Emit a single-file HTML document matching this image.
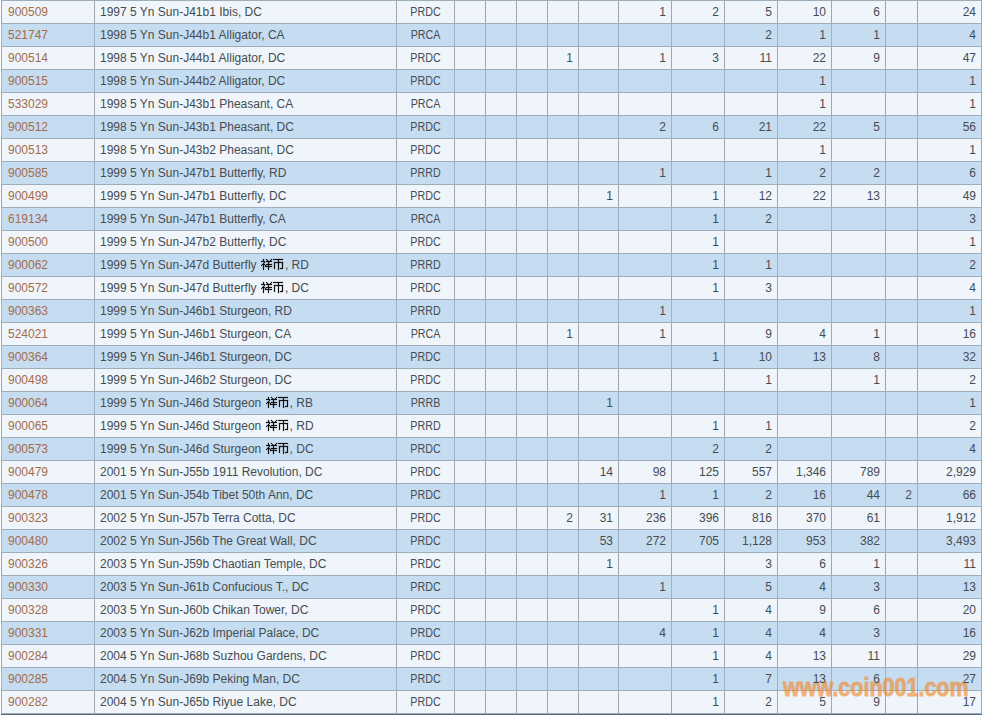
<!DOCTYPE html>
<html><head><meta charset="utf-8"><style>
html,body{margin:0;padding:0;background:#fff;}
body{width:982px;height:715px;overflow:hidden;position:relative;font-family:"Liberation Sans",sans-serif;font-size:12px;color:#464c52;}
.r{position:absolute;left:1px;width:981px;height:23px;}
.o{background:#eff5fa}
.e{background:#c6dcf0}
.h{position:absolute;left:1px;width:981px;height:1px;background:#9eadba}
.v{position:absolute;width:1px;height:22px}
.vo{background:#a0a7b2}
.ve{background:#9cb3c8}
.t{position:absolute;height:23px;line-height:23px;white-space:nowrap;}
.n{text-align:right}
.c{text-align:center}
.ty{transform:scaleX(0.89)}
.lk{color:#a46c4a}
.cj{vertical-align:-2px;margin:0 1px 0 1px}
.wm{position:absolute;left:783px;top:672px;opacity:0.64}
.wm span{font-family:"Liberation Sans",sans-serif;font-weight:bold;font-size:25px;line-height:30px;color:#f08c30;display:block;transform-origin:0 0;transform:scaleX(0.86);white-space:nowrap;-webkit-text-stroke:0.9px #f08c30}
</style></head><body>

<div class="r o" style="top:0px"></div>
<div class="r e" style="top:23px"></div>
<div class="r o" style="top:46px"></div>
<div class="r e" style="top:69px"></div>
<div class="r o" style="top:92px"></div>
<div class="r e" style="top:115px"></div>
<div class="r o" style="top:138px"></div>
<div class="r e" style="top:161px"></div>
<div class="r o" style="top:184px"></div>
<div class="r e" style="top:207px"></div>
<div class="r o" style="top:230px"></div>
<div class="r e" style="top:253px"></div>
<div class="r o" style="top:276px"></div>
<div class="r e" style="top:299px"></div>
<div class="r o" style="top:322px"></div>
<div class="r e" style="top:345px"></div>
<div class="r o" style="top:368px"></div>
<div class="r e" style="top:391px"></div>
<div class="r o" style="top:414px"></div>
<div class="r e" style="top:437px"></div>
<div class="r o" style="top:460px"></div>
<div class="r e" style="top:483px"></div>
<div class="r o" style="top:506px"></div>
<div class="r e" style="top:529px"></div>
<div class="r o" style="top:552px"></div>
<div class="r e" style="top:575px"></div>
<div class="r o" style="top:598px"></div>
<div class="r e" style="top:621px"></div>
<div class="r o" style="top:644px"></div>
<div class="r e" style="top:667px"></div>
<div class="r o" style="top:690px"></div>
<div class="h" style="top:0px"></div>
<div class="h" style="top:23px"></div>
<div class="h" style="top:46px"></div>
<div class="h" style="top:69px"></div>
<div class="h" style="top:92px"></div>
<div class="h" style="top:115px"></div>
<div class="h" style="top:138px"></div>
<div class="h" style="top:161px"></div>
<div class="h" style="top:184px"></div>
<div class="h" style="top:207px"></div>
<div class="h" style="top:230px"></div>
<div class="h" style="top:253px"></div>
<div class="h" style="top:276px"></div>
<div class="h" style="top:299px"></div>
<div class="h" style="top:322px"></div>
<div class="h" style="top:345px"></div>
<div class="h" style="top:368px"></div>
<div class="h" style="top:391px"></div>
<div class="h" style="top:414px"></div>
<div class="h" style="top:437px"></div>
<div class="h" style="top:460px"></div>
<div class="h" style="top:483px"></div>
<div class="h" style="top:506px"></div>
<div class="h" style="top:529px"></div>
<div class="h" style="top:552px"></div>
<div class="h" style="top:575px"></div>
<div class="h" style="top:598px"></div>
<div class="h" style="top:621px"></div>
<div class="h" style="top:644px"></div>
<div class="h" style="top:667px"></div>
<div class="h" style="top:690px"></div>
<div class="h" style="top:713px"></div>
<div class="v vo" style="left:1px;top:1px"></div>
<div class="v vo" style="left:94px;top:1px"></div>
<div class="v vo" style="left:396px;top:1px"></div>
<div class="v vo" style="left:454px;top:1px"></div>
<div class="v vo" style="left:485px;top:1px"></div>
<div class="v vo" style="left:516px;top:1px"></div>
<div class="v vo" style="left:547px;top:1px"></div>
<div class="v vo" style="left:578px;top:1px"></div>
<div class="v vo" style="left:618px;top:1px"></div>
<div class="v vo" style="left:671px;top:1px"></div>
<div class="v vo" style="left:724px;top:1px"></div>
<div class="v vo" style="left:777px;top:1px"></div>
<div class="v vo" style="left:831px;top:1px"></div>
<div class="v vo" style="left:885px;top:1px"></div>
<div class="v vo" style="left:917px;top:1px"></div>
<div class="v vo" style="left:981px;top:1px"></div>
<div class="v ve" style="left:1px;top:24px"></div>
<div class="v ve" style="left:94px;top:24px"></div>
<div class="v ve" style="left:396px;top:24px"></div>
<div class="v ve" style="left:454px;top:24px"></div>
<div class="v ve" style="left:485px;top:24px"></div>
<div class="v ve" style="left:516px;top:24px"></div>
<div class="v ve" style="left:547px;top:24px"></div>
<div class="v ve" style="left:578px;top:24px"></div>
<div class="v ve" style="left:618px;top:24px"></div>
<div class="v ve" style="left:671px;top:24px"></div>
<div class="v ve" style="left:724px;top:24px"></div>
<div class="v ve" style="left:777px;top:24px"></div>
<div class="v ve" style="left:831px;top:24px"></div>
<div class="v ve" style="left:885px;top:24px"></div>
<div class="v ve" style="left:917px;top:24px"></div>
<div class="v ve" style="left:981px;top:24px"></div>
<div class="v vo" style="left:1px;top:47px"></div>
<div class="v vo" style="left:94px;top:47px"></div>
<div class="v vo" style="left:396px;top:47px"></div>
<div class="v vo" style="left:454px;top:47px"></div>
<div class="v vo" style="left:485px;top:47px"></div>
<div class="v vo" style="left:516px;top:47px"></div>
<div class="v vo" style="left:547px;top:47px"></div>
<div class="v vo" style="left:578px;top:47px"></div>
<div class="v vo" style="left:618px;top:47px"></div>
<div class="v vo" style="left:671px;top:47px"></div>
<div class="v vo" style="left:724px;top:47px"></div>
<div class="v vo" style="left:777px;top:47px"></div>
<div class="v vo" style="left:831px;top:47px"></div>
<div class="v vo" style="left:885px;top:47px"></div>
<div class="v vo" style="left:917px;top:47px"></div>
<div class="v vo" style="left:981px;top:47px"></div>
<div class="v ve" style="left:1px;top:70px"></div>
<div class="v ve" style="left:94px;top:70px"></div>
<div class="v ve" style="left:396px;top:70px"></div>
<div class="v ve" style="left:454px;top:70px"></div>
<div class="v ve" style="left:485px;top:70px"></div>
<div class="v ve" style="left:516px;top:70px"></div>
<div class="v ve" style="left:547px;top:70px"></div>
<div class="v ve" style="left:578px;top:70px"></div>
<div class="v ve" style="left:618px;top:70px"></div>
<div class="v ve" style="left:671px;top:70px"></div>
<div class="v ve" style="left:724px;top:70px"></div>
<div class="v ve" style="left:777px;top:70px"></div>
<div class="v ve" style="left:831px;top:70px"></div>
<div class="v ve" style="left:885px;top:70px"></div>
<div class="v ve" style="left:917px;top:70px"></div>
<div class="v ve" style="left:981px;top:70px"></div>
<div class="v vo" style="left:1px;top:93px"></div>
<div class="v vo" style="left:94px;top:93px"></div>
<div class="v vo" style="left:396px;top:93px"></div>
<div class="v vo" style="left:454px;top:93px"></div>
<div class="v vo" style="left:485px;top:93px"></div>
<div class="v vo" style="left:516px;top:93px"></div>
<div class="v vo" style="left:547px;top:93px"></div>
<div class="v vo" style="left:578px;top:93px"></div>
<div class="v vo" style="left:618px;top:93px"></div>
<div class="v vo" style="left:671px;top:93px"></div>
<div class="v vo" style="left:724px;top:93px"></div>
<div class="v vo" style="left:777px;top:93px"></div>
<div class="v vo" style="left:831px;top:93px"></div>
<div class="v vo" style="left:885px;top:93px"></div>
<div class="v vo" style="left:917px;top:93px"></div>
<div class="v vo" style="left:981px;top:93px"></div>
<div class="v ve" style="left:1px;top:116px"></div>
<div class="v ve" style="left:94px;top:116px"></div>
<div class="v ve" style="left:396px;top:116px"></div>
<div class="v ve" style="left:454px;top:116px"></div>
<div class="v ve" style="left:485px;top:116px"></div>
<div class="v ve" style="left:516px;top:116px"></div>
<div class="v ve" style="left:547px;top:116px"></div>
<div class="v ve" style="left:578px;top:116px"></div>
<div class="v ve" style="left:618px;top:116px"></div>
<div class="v ve" style="left:671px;top:116px"></div>
<div class="v ve" style="left:724px;top:116px"></div>
<div class="v ve" style="left:777px;top:116px"></div>
<div class="v ve" style="left:831px;top:116px"></div>
<div class="v ve" style="left:885px;top:116px"></div>
<div class="v ve" style="left:917px;top:116px"></div>
<div class="v ve" style="left:981px;top:116px"></div>
<div class="v vo" style="left:1px;top:139px"></div>
<div class="v vo" style="left:94px;top:139px"></div>
<div class="v vo" style="left:396px;top:139px"></div>
<div class="v vo" style="left:454px;top:139px"></div>
<div class="v vo" style="left:485px;top:139px"></div>
<div class="v vo" style="left:516px;top:139px"></div>
<div class="v vo" style="left:547px;top:139px"></div>
<div class="v vo" style="left:578px;top:139px"></div>
<div class="v vo" style="left:618px;top:139px"></div>
<div class="v vo" style="left:671px;top:139px"></div>
<div class="v vo" style="left:724px;top:139px"></div>
<div class="v vo" style="left:777px;top:139px"></div>
<div class="v vo" style="left:831px;top:139px"></div>
<div class="v vo" style="left:885px;top:139px"></div>
<div class="v vo" style="left:917px;top:139px"></div>
<div class="v vo" style="left:981px;top:139px"></div>
<div class="v ve" style="left:1px;top:162px"></div>
<div class="v ve" style="left:94px;top:162px"></div>
<div class="v ve" style="left:396px;top:162px"></div>
<div class="v ve" style="left:454px;top:162px"></div>
<div class="v ve" style="left:485px;top:162px"></div>
<div class="v ve" style="left:516px;top:162px"></div>
<div class="v ve" style="left:547px;top:162px"></div>
<div class="v ve" style="left:578px;top:162px"></div>
<div class="v ve" style="left:618px;top:162px"></div>
<div class="v ve" style="left:671px;top:162px"></div>
<div class="v ve" style="left:724px;top:162px"></div>
<div class="v ve" style="left:777px;top:162px"></div>
<div class="v ve" style="left:831px;top:162px"></div>
<div class="v ve" style="left:885px;top:162px"></div>
<div class="v ve" style="left:917px;top:162px"></div>
<div class="v ve" style="left:981px;top:162px"></div>
<div class="v vo" style="left:1px;top:185px"></div>
<div class="v vo" style="left:94px;top:185px"></div>
<div class="v vo" style="left:396px;top:185px"></div>
<div class="v vo" style="left:454px;top:185px"></div>
<div class="v vo" style="left:485px;top:185px"></div>
<div class="v vo" style="left:516px;top:185px"></div>
<div class="v vo" style="left:547px;top:185px"></div>
<div class="v vo" style="left:578px;top:185px"></div>
<div class="v vo" style="left:618px;top:185px"></div>
<div class="v vo" style="left:671px;top:185px"></div>
<div class="v vo" style="left:724px;top:185px"></div>
<div class="v vo" style="left:777px;top:185px"></div>
<div class="v vo" style="left:831px;top:185px"></div>
<div class="v vo" style="left:885px;top:185px"></div>
<div class="v vo" style="left:917px;top:185px"></div>
<div class="v vo" style="left:981px;top:185px"></div>
<div class="v ve" style="left:1px;top:208px"></div>
<div class="v ve" style="left:94px;top:208px"></div>
<div class="v ve" style="left:396px;top:208px"></div>
<div class="v ve" style="left:454px;top:208px"></div>
<div class="v ve" style="left:485px;top:208px"></div>
<div class="v ve" style="left:516px;top:208px"></div>
<div class="v ve" style="left:547px;top:208px"></div>
<div class="v ve" style="left:578px;top:208px"></div>
<div class="v ve" style="left:618px;top:208px"></div>
<div class="v ve" style="left:671px;top:208px"></div>
<div class="v ve" style="left:724px;top:208px"></div>
<div class="v ve" style="left:777px;top:208px"></div>
<div class="v ve" style="left:831px;top:208px"></div>
<div class="v ve" style="left:885px;top:208px"></div>
<div class="v ve" style="left:917px;top:208px"></div>
<div class="v ve" style="left:981px;top:208px"></div>
<div class="v vo" style="left:1px;top:231px"></div>
<div class="v vo" style="left:94px;top:231px"></div>
<div class="v vo" style="left:396px;top:231px"></div>
<div class="v vo" style="left:454px;top:231px"></div>
<div class="v vo" style="left:485px;top:231px"></div>
<div class="v vo" style="left:516px;top:231px"></div>
<div class="v vo" style="left:547px;top:231px"></div>
<div class="v vo" style="left:578px;top:231px"></div>
<div class="v vo" style="left:618px;top:231px"></div>
<div class="v vo" style="left:671px;top:231px"></div>
<div class="v vo" style="left:724px;top:231px"></div>
<div class="v vo" style="left:777px;top:231px"></div>
<div class="v vo" style="left:831px;top:231px"></div>
<div class="v vo" style="left:885px;top:231px"></div>
<div class="v vo" style="left:917px;top:231px"></div>
<div class="v vo" style="left:981px;top:231px"></div>
<div class="v ve" style="left:1px;top:254px"></div>
<div class="v ve" style="left:94px;top:254px"></div>
<div class="v ve" style="left:396px;top:254px"></div>
<div class="v ve" style="left:454px;top:254px"></div>
<div class="v ve" style="left:485px;top:254px"></div>
<div class="v ve" style="left:516px;top:254px"></div>
<div class="v ve" style="left:547px;top:254px"></div>
<div class="v ve" style="left:578px;top:254px"></div>
<div class="v ve" style="left:618px;top:254px"></div>
<div class="v ve" style="left:671px;top:254px"></div>
<div class="v ve" style="left:724px;top:254px"></div>
<div class="v ve" style="left:777px;top:254px"></div>
<div class="v ve" style="left:831px;top:254px"></div>
<div class="v ve" style="left:885px;top:254px"></div>
<div class="v ve" style="left:917px;top:254px"></div>
<div class="v ve" style="left:981px;top:254px"></div>
<div class="v vo" style="left:1px;top:277px"></div>
<div class="v vo" style="left:94px;top:277px"></div>
<div class="v vo" style="left:396px;top:277px"></div>
<div class="v vo" style="left:454px;top:277px"></div>
<div class="v vo" style="left:485px;top:277px"></div>
<div class="v vo" style="left:516px;top:277px"></div>
<div class="v vo" style="left:547px;top:277px"></div>
<div class="v vo" style="left:578px;top:277px"></div>
<div class="v vo" style="left:618px;top:277px"></div>
<div class="v vo" style="left:671px;top:277px"></div>
<div class="v vo" style="left:724px;top:277px"></div>
<div class="v vo" style="left:777px;top:277px"></div>
<div class="v vo" style="left:831px;top:277px"></div>
<div class="v vo" style="left:885px;top:277px"></div>
<div class="v vo" style="left:917px;top:277px"></div>
<div class="v vo" style="left:981px;top:277px"></div>
<div class="v ve" style="left:1px;top:300px"></div>
<div class="v ve" style="left:94px;top:300px"></div>
<div class="v ve" style="left:396px;top:300px"></div>
<div class="v ve" style="left:454px;top:300px"></div>
<div class="v ve" style="left:485px;top:300px"></div>
<div class="v ve" style="left:516px;top:300px"></div>
<div class="v ve" style="left:547px;top:300px"></div>
<div class="v ve" style="left:578px;top:300px"></div>
<div class="v ve" style="left:618px;top:300px"></div>
<div class="v ve" style="left:671px;top:300px"></div>
<div class="v ve" style="left:724px;top:300px"></div>
<div class="v ve" style="left:777px;top:300px"></div>
<div class="v ve" style="left:831px;top:300px"></div>
<div class="v ve" style="left:885px;top:300px"></div>
<div class="v ve" style="left:917px;top:300px"></div>
<div class="v ve" style="left:981px;top:300px"></div>
<div class="v vo" style="left:1px;top:323px"></div>
<div class="v vo" style="left:94px;top:323px"></div>
<div class="v vo" style="left:396px;top:323px"></div>
<div class="v vo" style="left:454px;top:323px"></div>
<div class="v vo" style="left:485px;top:323px"></div>
<div class="v vo" style="left:516px;top:323px"></div>
<div class="v vo" style="left:547px;top:323px"></div>
<div class="v vo" style="left:578px;top:323px"></div>
<div class="v vo" style="left:618px;top:323px"></div>
<div class="v vo" style="left:671px;top:323px"></div>
<div class="v vo" style="left:724px;top:323px"></div>
<div class="v vo" style="left:777px;top:323px"></div>
<div class="v vo" style="left:831px;top:323px"></div>
<div class="v vo" style="left:885px;top:323px"></div>
<div class="v vo" style="left:917px;top:323px"></div>
<div class="v vo" style="left:981px;top:323px"></div>
<div class="v ve" style="left:1px;top:346px"></div>
<div class="v ve" style="left:94px;top:346px"></div>
<div class="v ve" style="left:396px;top:346px"></div>
<div class="v ve" style="left:454px;top:346px"></div>
<div class="v ve" style="left:485px;top:346px"></div>
<div class="v ve" style="left:516px;top:346px"></div>
<div class="v ve" style="left:547px;top:346px"></div>
<div class="v ve" style="left:578px;top:346px"></div>
<div class="v ve" style="left:618px;top:346px"></div>
<div class="v ve" style="left:671px;top:346px"></div>
<div class="v ve" style="left:724px;top:346px"></div>
<div class="v ve" style="left:777px;top:346px"></div>
<div class="v ve" style="left:831px;top:346px"></div>
<div class="v ve" style="left:885px;top:346px"></div>
<div class="v ve" style="left:917px;top:346px"></div>
<div class="v ve" style="left:981px;top:346px"></div>
<div class="v vo" style="left:1px;top:369px"></div>
<div class="v vo" style="left:94px;top:369px"></div>
<div class="v vo" style="left:396px;top:369px"></div>
<div class="v vo" style="left:454px;top:369px"></div>
<div class="v vo" style="left:485px;top:369px"></div>
<div class="v vo" style="left:516px;top:369px"></div>
<div class="v vo" style="left:547px;top:369px"></div>
<div class="v vo" style="left:578px;top:369px"></div>
<div class="v vo" style="left:618px;top:369px"></div>
<div class="v vo" style="left:671px;top:369px"></div>
<div class="v vo" style="left:724px;top:369px"></div>
<div class="v vo" style="left:777px;top:369px"></div>
<div class="v vo" style="left:831px;top:369px"></div>
<div class="v vo" style="left:885px;top:369px"></div>
<div class="v vo" style="left:917px;top:369px"></div>
<div class="v vo" style="left:981px;top:369px"></div>
<div class="v ve" style="left:1px;top:392px"></div>
<div class="v ve" style="left:94px;top:392px"></div>
<div class="v ve" style="left:396px;top:392px"></div>
<div class="v ve" style="left:454px;top:392px"></div>
<div class="v ve" style="left:485px;top:392px"></div>
<div class="v ve" style="left:516px;top:392px"></div>
<div class="v ve" style="left:547px;top:392px"></div>
<div class="v ve" style="left:578px;top:392px"></div>
<div class="v ve" style="left:618px;top:392px"></div>
<div class="v ve" style="left:671px;top:392px"></div>
<div class="v ve" style="left:724px;top:392px"></div>
<div class="v ve" style="left:777px;top:392px"></div>
<div class="v ve" style="left:831px;top:392px"></div>
<div class="v ve" style="left:885px;top:392px"></div>
<div class="v ve" style="left:917px;top:392px"></div>
<div class="v ve" style="left:981px;top:392px"></div>
<div class="v vo" style="left:1px;top:415px"></div>
<div class="v vo" style="left:94px;top:415px"></div>
<div class="v vo" style="left:396px;top:415px"></div>
<div class="v vo" style="left:454px;top:415px"></div>
<div class="v vo" style="left:485px;top:415px"></div>
<div class="v vo" style="left:516px;top:415px"></div>
<div class="v vo" style="left:547px;top:415px"></div>
<div class="v vo" style="left:578px;top:415px"></div>
<div class="v vo" style="left:618px;top:415px"></div>
<div class="v vo" style="left:671px;top:415px"></div>
<div class="v vo" style="left:724px;top:415px"></div>
<div class="v vo" style="left:777px;top:415px"></div>
<div class="v vo" style="left:831px;top:415px"></div>
<div class="v vo" style="left:885px;top:415px"></div>
<div class="v vo" style="left:917px;top:415px"></div>
<div class="v vo" style="left:981px;top:415px"></div>
<div class="v ve" style="left:1px;top:438px"></div>
<div class="v ve" style="left:94px;top:438px"></div>
<div class="v ve" style="left:396px;top:438px"></div>
<div class="v ve" style="left:454px;top:438px"></div>
<div class="v ve" style="left:485px;top:438px"></div>
<div class="v ve" style="left:516px;top:438px"></div>
<div class="v ve" style="left:547px;top:438px"></div>
<div class="v ve" style="left:578px;top:438px"></div>
<div class="v ve" style="left:618px;top:438px"></div>
<div class="v ve" style="left:671px;top:438px"></div>
<div class="v ve" style="left:724px;top:438px"></div>
<div class="v ve" style="left:777px;top:438px"></div>
<div class="v ve" style="left:831px;top:438px"></div>
<div class="v ve" style="left:885px;top:438px"></div>
<div class="v ve" style="left:917px;top:438px"></div>
<div class="v ve" style="left:981px;top:438px"></div>
<div class="v vo" style="left:1px;top:461px"></div>
<div class="v vo" style="left:94px;top:461px"></div>
<div class="v vo" style="left:396px;top:461px"></div>
<div class="v vo" style="left:454px;top:461px"></div>
<div class="v vo" style="left:485px;top:461px"></div>
<div class="v vo" style="left:516px;top:461px"></div>
<div class="v vo" style="left:547px;top:461px"></div>
<div class="v vo" style="left:578px;top:461px"></div>
<div class="v vo" style="left:618px;top:461px"></div>
<div class="v vo" style="left:671px;top:461px"></div>
<div class="v vo" style="left:724px;top:461px"></div>
<div class="v vo" style="left:777px;top:461px"></div>
<div class="v vo" style="left:831px;top:461px"></div>
<div class="v vo" style="left:885px;top:461px"></div>
<div class="v vo" style="left:917px;top:461px"></div>
<div class="v vo" style="left:981px;top:461px"></div>
<div class="v ve" style="left:1px;top:484px"></div>
<div class="v ve" style="left:94px;top:484px"></div>
<div class="v ve" style="left:396px;top:484px"></div>
<div class="v ve" style="left:454px;top:484px"></div>
<div class="v ve" style="left:485px;top:484px"></div>
<div class="v ve" style="left:516px;top:484px"></div>
<div class="v ve" style="left:547px;top:484px"></div>
<div class="v ve" style="left:578px;top:484px"></div>
<div class="v ve" style="left:618px;top:484px"></div>
<div class="v ve" style="left:671px;top:484px"></div>
<div class="v ve" style="left:724px;top:484px"></div>
<div class="v ve" style="left:777px;top:484px"></div>
<div class="v ve" style="left:831px;top:484px"></div>
<div class="v ve" style="left:885px;top:484px"></div>
<div class="v ve" style="left:917px;top:484px"></div>
<div class="v ve" style="left:981px;top:484px"></div>
<div class="v vo" style="left:1px;top:507px"></div>
<div class="v vo" style="left:94px;top:507px"></div>
<div class="v vo" style="left:396px;top:507px"></div>
<div class="v vo" style="left:454px;top:507px"></div>
<div class="v vo" style="left:485px;top:507px"></div>
<div class="v vo" style="left:516px;top:507px"></div>
<div class="v vo" style="left:547px;top:507px"></div>
<div class="v vo" style="left:578px;top:507px"></div>
<div class="v vo" style="left:618px;top:507px"></div>
<div class="v vo" style="left:671px;top:507px"></div>
<div class="v vo" style="left:724px;top:507px"></div>
<div class="v vo" style="left:777px;top:507px"></div>
<div class="v vo" style="left:831px;top:507px"></div>
<div class="v vo" style="left:885px;top:507px"></div>
<div class="v vo" style="left:917px;top:507px"></div>
<div class="v vo" style="left:981px;top:507px"></div>
<div class="v ve" style="left:1px;top:530px"></div>
<div class="v ve" style="left:94px;top:530px"></div>
<div class="v ve" style="left:396px;top:530px"></div>
<div class="v ve" style="left:454px;top:530px"></div>
<div class="v ve" style="left:485px;top:530px"></div>
<div class="v ve" style="left:516px;top:530px"></div>
<div class="v ve" style="left:547px;top:530px"></div>
<div class="v ve" style="left:578px;top:530px"></div>
<div class="v ve" style="left:618px;top:530px"></div>
<div class="v ve" style="left:671px;top:530px"></div>
<div class="v ve" style="left:724px;top:530px"></div>
<div class="v ve" style="left:777px;top:530px"></div>
<div class="v ve" style="left:831px;top:530px"></div>
<div class="v ve" style="left:885px;top:530px"></div>
<div class="v ve" style="left:917px;top:530px"></div>
<div class="v ve" style="left:981px;top:530px"></div>
<div class="v vo" style="left:1px;top:553px"></div>
<div class="v vo" style="left:94px;top:553px"></div>
<div class="v vo" style="left:396px;top:553px"></div>
<div class="v vo" style="left:454px;top:553px"></div>
<div class="v vo" style="left:485px;top:553px"></div>
<div class="v vo" style="left:516px;top:553px"></div>
<div class="v vo" style="left:547px;top:553px"></div>
<div class="v vo" style="left:578px;top:553px"></div>
<div class="v vo" style="left:618px;top:553px"></div>
<div class="v vo" style="left:671px;top:553px"></div>
<div class="v vo" style="left:724px;top:553px"></div>
<div class="v vo" style="left:777px;top:553px"></div>
<div class="v vo" style="left:831px;top:553px"></div>
<div class="v vo" style="left:885px;top:553px"></div>
<div class="v vo" style="left:917px;top:553px"></div>
<div class="v vo" style="left:981px;top:553px"></div>
<div class="v ve" style="left:1px;top:576px"></div>
<div class="v ve" style="left:94px;top:576px"></div>
<div class="v ve" style="left:396px;top:576px"></div>
<div class="v ve" style="left:454px;top:576px"></div>
<div class="v ve" style="left:485px;top:576px"></div>
<div class="v ve" style="left:516px;top:576px"></div>
<div class="v ve" style="left:547px;top:576px"></div>
<div class="v ve" style="left:578px;top:576px"></div>
<div class="v ve" style="left:618px;top:576px"></div>
<div class="v ve" style="left:671px;top:576px"></div>
<div class="v ve" style="left:724px;top:576px"></div>
<div class="v ve" style="left:777px;top:576px"></div>
<div class="v ve" style="left:831px;top:576px"></div>
<div class="v ve" style="left:885px;top:576px"></div>
<div class="v ve" style="left:917px;top:576px"></div>
<div class="v ve" style="left:981px;top:576px"></div>
<div class="v vo" style="left:1px;top:599px"></div>
<div class="v vo" style="left:94px;top:599px"></div>
<div class="v vo" style="left:396px;top:599px"></div>
<div class="v vo" style="left:454px;top:599px"></div>
<div class="v vo" style="left:485px;top:599px"></div>
<div class="v vo" style="left:516px;top:599px"></div>
<div class="v vo" style="left:547px;top:599px"></div>
<div class="v vo" style="left:578px;top:599px"></div>
<div class="v vo" style="left:618px;top:599px"></div>
<div class="v vo" style="left:671px;top:599px"></div>
<div class="v vo" style="left:724px;top:599px"></div>
<div class="v vo" style="left:777px;top:599px"></div>
<div class="v vo" style="left:831px;top:599px"></div>
<div class="v vo" style="left:885px;top:599px"></div>
<div class="v vo" style="left:917px;top:599px"></div>
<div class="v vo" style="left:981px;top:599px"></div>
<div class="v ve" style="left:1px;top:622px"></div>
<div class="v ve" style="left:94px;top:622px"></div>
<div class="v ve" style="left:396px;top:622px"></div>
<div class="v ve" style="left:454px;top:622px"></div>
<div class="v ve" style="left:485px;top:622px"></div>
<div class="v ve" style="left:516px;top:622px"></div>
<div class="v ve" style="left:547px;top:622px"></div>
<div class="v ve" style="left:578px;top:622px"></div>
<div class="v ve" style="left:618px;top:622px"></div>
<div class="v ve" style="left:671px;top:622px"></div>
<div class="v ve" style="left:724px;top:622px"></div>
<div class="v ve" style="left:777px;top:622px"></div>
<div class="v ve" style="left:831px;top:622px"></div>
<div class="v ve" style="left:885px;top:622px"></div>
<div class="v ve" style="left:917px;top:622px"></div>
<div class="v ve" style="left:981px;top:622px"></div>
<div class="v vo" style="left:1px;top:645px"></div>
<div class="v vo" style="left:94px;top:645px"></div>
<div class="v vo" style="left:396px;top:645px"></div>
<div class="v vo" style="left:454px;top:645px"></div>
<div class="v vo" style="left:485px;top:645px"></div>
<div class="v vo" style="left:516px;top:645px"></div>
<div class="v vo" style="left:547px;top:645px"></div>
<div class="v vo" style="left:578px;top:645px"></div>
<div class="v vo" style="left:618px;top:645px"></div>
<div class="v vo" style="left:671px;top:645px"></div>
<div class="v vo" style="left:724px;top:645px"></div>
<div class="v vo" style="left:777px;top:645px"></div>
<div class="v vo" style="left:831px;top:645px"></div>
<div class="v vo" style="left:885px;top:645px"></div>
<div class="v vo" style="left:917px;top:645px"></div>
<div class="v vo" style="left:981px;top:645px"></div>
<div class="v ve" style="left:1px;top:668px"></div>
<div class="v ve" style="left:94px;top:668px"></div>
<div class="v ve" style="left:396px;top:668px"></div>
<div class="v ve" style="left:454px;top:668px"></div>
<div class="v ve" style="left:485px;top:668px"></div>
<div class="v ve" style="left:516px;top:668px"></div>
<div class="v ve" style="left:547px;top:668px"></div>
<div class="v ve" style="left:578px;top:668px"></div>
<div class="v ve" style="left:618px;top:668px"></div>
<div class="v ve" style="left:671px;top:668px"></div>
<div class="v ve" style="left:724px;top:668px"></div>
<div class="v ve" style="left:777px;top:668px"></div>
<div class="v ve" style="left:831px;top:668px"></div>
<div class="v ve" style="left:885px;top:668px"></div>
<div class="v ve" style="left:917px;top:668px"></div>
<div class="v ve" style="left:981px;top:668px"></div>
<div class="v vo" style="left:1px;top:691px"></div>
<div class="v vo" style="left:94px;top:691px"></div>
<div class="v vo" style="left:396px;top:691px"></div>
<div class="v vo" style="left:454px;top:691px"></div>
<div class="v vo" style="left:485px;top:691px"></div>
<div class="v vo" style="left:516px;top:691px"></div>
<div class="v vo" style="left:547px;top:691px"></div>
<div class="v vo" style="left:578px;top:691px"></div>
<div class="v vo" style="left:618px;top:691px"></div>
<div class="v vo" style="left:671px;top:691px"></div>
<div class="v vo" style="left:724px;top:691px"></div>
<div class="v vo" style="left:777px;top:691px"></div>
<div class="v vo" style="left:831px;top:691px"></div>
<div class="v vo" style="left:885px;top:691px"></div>
<div class="v vo" style="left:917px;top:691px"></div>
<div class="v vo" style="left:981px;top:691px"></div>
<div class="h" style="top:714px;background:#55697c"></div>
<div class="wm"><span>www.coin001.com</span></div>
<div class="t lk" style="top:1px;left:8px">900509</div>
<div class="t" style="top:1px;left:100px">1997 5 Yn Sun-J41b1 Ibis, DC</div>
<div class="t c ty" style="top:1px;left:397px;width:57px">PRDC</div>
<div class="t n" style="top:1px;left:619px;width:47px">1</div>
<div class="t n" style="top:1px;left:672px;width:47px">2</div>
<div class="t n" style="top:1px;left:725px;width:47px">5</div>
<div class="t n" style="top:1px;left:778px;width:48px">10</div>
<div class="t n" style="top:1px;left:832px;width:48px">6</div>
<div class="t n" style="top:1px;left:918px;width:58px">24</div>
<div class="t lk" style="top:24px;left:8px">521747</div>
<div class="t" style="top:24px;left:100px">1998 5 Yn Sun-J44b1 Alligator, CA</div>
<div class="t c ty" style="top:24px;left:397px;width:57px">PRCA</div>
<div class="t n" style="top:24px;left:725px;width:47px">2</div>
<div class="t n" style="top:24px;left:778px;width:48px">1</div>
<div class="t n" style="top:24px;left:832px;width:48px">1</div>
<div class="t n" style="top:24px;left:918px;width:58px">4</div>
<div class="t lk" style="top:47px;left:8px">900514</div>
<div class="t" style="top:47px;left:100px">1998 5 Yn Sun-J44b1 Alligator, DC</div>
<div class="t c ty" style="top:47px;left:397px;width:57px">PRDC</div>
<div class="t n" style="top:47px;left:548px;width:25px">1</div>
<div class="t n" style="top:47px;left:619px;width:47px">1</div>
<div class="t n" style="top:47px;left:672px;width:47px">3</div>
<div class="t n" style="top:47px;left:725px;width:47px">11</div>
<div class="t n" style="top:47px;left:778px;width:48px">22</div>
<div class="t n" style="top:47px;left:832px;width:48px">9</div>
<div class="t n" style="top:47px;left:918px;width:58px">47</div>
<div class="t lk" style="top:70px;left:8px">900515</div>
<div class="t" style="top:70px;left:100px">1998 5 Yn Sun-J44b2 Alligator, DC</div>
<div class="t c ty" style="top:70px;left:397px;width:57px">PRDC</div>
<div class="t n" style="top:70px;left:778px;width:48px">1</div>
<div class="t n" style="top:70px;left:918px;width:58px">1</div>
<div class="t lk" style="top:93px;left:8px">533029</div>
<div class="t" style="top:93px;left:100px">1998 5 Yn Sun-J43b1 Pheasant, CA</div>
<div class="t c ty" style="top:93px;left:397px;width:57px">PRCA</div>
<div class="t n" style="top:93px;left:778px;width:48px">1</div>
<div class="t n" style="top:93px;left:918px;width:58px">1</div>
<div class="t lk" style="top:116px;left:8px">900512</div>
<div class="t" style="top:116px;left:100px">1998 5 Yn Sun-J43b1 Pheasant, DC</div>
<div class="t c ty" style="top:116px;left:397px;width:57px">PRDC</div>
<div class="t n" style="top:116px;left:619px;width:47px">2</div>
<div class="t n" style="top:116px;left:672px;width:47px">6</div>
<div class="t n" style="top:116px;left:725px;width:47px">21</div>
<div class="t n" style="top:116px;left:778px;width:48px">22</div>
<div class="t n" style="top:116px;left:832px;width:48px">5</div>
<div class="t n" style="top:116px;left:918px;width:58px">56</div>
<div class="t lk" style="top:139px;left:8px">900513</div>
<div class="t" style="top:139px;left:100px">1998 5 Yn Sun-J43b2 Pheasant, DC</div>
<div class="t c ty" style="top:139px;left:397px;width:57px">PRDC</div>
<div class="t n" style="top:139px;left:778px;width:48px">1</div>
<div class="t n" style="top:139px;left:918px;width:58px">1</div>
<div class="t lk" style="top:162px;left:8px">900585</div>
<div class="t" style="top:162px;left:100px">1999 5 Yn Sun-J47b1 Butterfly, RD</div>
<div class="t c ty" style="top:162px;left:397px;width:57px">PRRD</div>
<div class="t n" style="top:162px;left:619px;width:47px">1</div>
<div class="t n" style="top:162px;left:725px;width:47px">1</div>
<div class="t n" style="top:162px;left:778px;width:48px">2</div>
<div class="t n" style="top:162px;left:832px;width:48px">2</div>
<div class="t n" style="top:162px;left:918px;width:58px">6</div>
<div class="t lk" style="top:185px;left:8px">900499</div>
<div class="t" style="top:185px;left:100px">1999 5 Yn Sun-J47b1 Butterfly, DC</div>
<div class="t c ty" style="top:185px;left:397px;width:57px">PRDC</div>
<div class="t n" style="top:185px;left:579px;width:34px">1</div>
<div class="t n" style="top:185px;left:672px;width:47px">1</div>
<div class="t n" style="top:185px;left:725px;width:47px">12</div>
<div class="t n" style="top:185px;left:778px;width:48px">22</div>
<div class="t n" style="top:185px;left:832px;width:48px">13</div>
<div class="t n" style="top:185px;left:918px;width:58px">49</div>
<div class="t lk" style="top:208px;left:8px">619134</div>
<div class="t" style="top:208px;left:100px">1999 5 Yn Sun-J47b1 Butterfly, CA</div>
<div class="t c ty" style="top:208px;left:397px;width:57px">PRCA</div>
<div class="t n" style="top:208px;left:672px;width:47px">1</div>
<div class="t n" style="top:208px;left:725px;width:47px">2</div>
<div class="t n" style="top:208px;left:918px;width:58px">3</div>
<div class="t lk" style="top:231px;left:8px">900500</div>
<div class="t" style="top:231px;left:100px">1999 5 Yn Sun-J47b2 Butterfly, DC</div>
<div class="t c ty" style="top:231px;left:397px;width:57px">PRDC</div>
<div class="t n" style="top:231px;left:672px;width:47px">1</div>
<div class="t n" style="top:231px;left:918px;width:58px">1</div>
<div class="t lk" style="top:254px;left:8px">900062</div>
<div class="t" style="top:254px;left:100px">1999 5 Yn Sun-J47d Butterfly <svg class="cj" width="23" height="13" viewBox="0 0 23 13" ><g fill="#111" stroke="#111" stroke-width="0.2"><rect x="2" y="1" width="1" height="2"/><rect x="0" y="3" width="4" height="1"/><rect x="3" y="4" width="1" height="1"/><rect x="2" y="5" width="1" height="1"/><rect x="1" y="6" width="1" height="1"/><rect x="0" y="7" width="1" height="1"/><rect x="2" y="6" width="1" height="6"/><rect x="3" y="6" width="1" height="1"/><rect x="4" y="7" width="1" height="1"/><rect x="5" y="1" width="1" height="1"/><rect x="6" y="2" width="1" height="1"/><rect x="10" y="1" width="1" height="1"/><rect x="9" y="2" width="1" height="1"/><rect x="5" y="3" width="6" height="1"/><rect x="5" y="6" width="6" height="1"/><rect x="4" y="8" width="7" height="1"/><rect x="7" y="3" width="1" height="9"/><rect x="12" y="1" width="10" height="1"/><rect x="13" y="4" width="9" height="1"/><rect x="13" y="4" width="1" height="7"/><rect x="21" y="4" width="1" height="7"/><rect x="19" y="10" width="2" height="1"/><rect x="17" y="2" width="1" height="10"/></g></svg>, RD</div>
<div class="t c ty" style="top:254px;left:397px;width:57px">PRRD</div>
<div class="t n" style="top:254px;left:672px;width:47px">1</div>
<div class="t n" style="top:254px;left:725px;width:47px">1</div>
<div class="t n" style="top:254px;left:918px;width:58px">2</div>
<div class="t lk" style="top:277px;left:8px">900572</div>
<div class="t" style="top:277px;left:100px">1999 5 Yn Sun-J47d Butterfly <svg class="cj" width="23" height="13" viewBox="0 0 23 13" ><g fill="#111" stroke="#111" stroke-width="0.2"><rect x="2" y="1" width="1" height="2"/><rect x="0" y="3" width="4" height="1"/><rect x="3" y="4" width="1" height="1"/><rect x="2" y="5" width="1" height="1"/><rect x="1" y="6" width="1" height="1"/><rect x="0" y="7" width="1" height="1"/><rect x="2" y="6" width="1" height="6"/><rect x="3" y="6" width="1" height="1"/><rect x="4" y="7" width="1" height="1"/><rect x="5" y="1" width="1" height="1"/><rect x="6" y="2" width="1" height="1"/><rect x="10" y="1" width="1" height="1"/><rect x="9" y="2" width="1" height="1"/><rect x="5" y="3" width="6" height="1"/><rect x="5" y="6" width="6" height="1"/><rect x="4" y="8" width="7" height="1"/><rect x="7" y="3" width="1" height="9"/><rect x="12" y="1" width="10" height="1"/><rect x="13" y="4" width="9" height="1"/><rect x="13" y="4" width="1" height="7"/><rect x="21" y="4" width="1" height="7"/><rect x="19" y="10" width="2" height="1"/><rect x="17" y="2" width="1" height="10"/></g></svg>, DC</div>
<div class="t c ty" style="top:277px;left:397px;width:57px">PRDC</div>
<div class="t n" style="top:277px;left:672px;width:47px">1</div>
<div class="t n" style="top:277px;left:725px;width:47px">3</div>
<div class="t n" style="top:277px;left:918px;width:58px">4</div>
<div class="t lk" style="top:300px;left:8px">900363</div>
<div class="t" style="top:300px;left:100px">1999 5 Yn Sun-J46b1 Sturgeon, RD</div>
<div class="t c ty" style="top:300px;left:397px;width:57px">PRRD</div>
<div class="t n" style="top:300px;left:619px;width:47px">1</div>
<div class="t n" style="top:300px;left:918px;width:58px">1</div>
<div class="t lk" style="top:323px;left:8px">524021</div>
<div class="t" style="top:323px;left:100px">1999 5 Yn Sun-J46b1 Sturgeon, CA</div>
<div class="t c ty" style="top:323px;left:397px;width:57px">PRCA</div>
<div class="t n" style="top:323px;left:548px;width:25px">1</div>
<div class="t n" style="top:323px;left:619px;width:47px">1</div>
<div class="t n" style="top:323px;left:725px;width:47px">9</div>
<div class="t n" style="top:323px;left:778px;width:48px">4</div>
<div class="t n" style="top:323px;left:832px;width:48px">1</div>
<div class="t n" style="top:323px;left:918px;width:58px">16</div>
<div class="t lk" style="top:346px;left:8px">900364</div>
<div class="t" style="top:346px;left:100px">1999 5 Yn Sun-J46b1 Sturgeon, DC</div>
<div class="t c ty" style="top:346px;left:397px;width:57px">PRDC</div>
<div class="t n" style="top:346px;left:672px;width:47px">1</div>
<div class="t n" style="top:346px;left:725px;width:47px">10</div>
<div class="t n" style="top:346px;left:778px;width:48px">13</div>
<div class="t n" style="top:346px;left:832px;width:48px">8</div>
<div class="t n" style="top:346px;left:918px;width:58px">32</div>
<div class="t lk" style="top:369px;left:8px">900498</div>
<div class="t" style="top:369px;left:100px">1999 5 Yn Sun-J46b2 Sturgeon, DC</div>
<div class="t c ty" style="top:369px;left:397px;width:57px">PRDC</div>
<div class="t n" style="top:369px;left:725px;width:47px">1</div>
<div class="t n" style="top:369px;left:832px;width:48px">1</div>
<div class="t n" style="top:369px;left:918px;width:58px">2</div>
<div class="t lk" style="top:392px;left:8px">900064</div>
<div class="t" style="top:392px;left:100px">1999 5 Yn Sun-J46d Sturgeon <svg class="cj" width="23" height="13" viewBox="0 0 23 13" ><g fill="#111" stroke="#111" stroke-width="0.2"><rect x="2" y="1" width="1" height="2"/><rect x="0" y="3" width="4" height="1"/><rect x="3" y="4" width="1" height="1"/><rect x="2" y="5" width="1" height="1"/><rect x="1" y="6" width="1" height="1"/><rect x="0" y="7" width="1" height="1"/><rect x="2" y="6" width="1" height="6"/><rect x="3" y="6" width="1" height="1"/><rect x="4" y="7" width="1" height="1"/><rect x="5" y="1" width="1" height="1"/><rect x="6" y="2" width="1" height="1"/><rect x="10" y="1" width="1" height="1"/><rect x="9" y="2" width="1" height="1"/><rect x="5" y="3" width="6" height="1"/><rect x="5" y="6" width="6" height="1"/><rect x="4" y="8" width="7" height="1"/><rect x="7" y="3" width="1" height="9"/><rect x="12" y="1" width="10" height="1"/><rect x="13" y="4" width="9" height="1"/><rect x="13" y="4" width="1" height="7"/><rect x="21" y="4" width="1" height="7"/><rect x="19" y="10" width="2" height="1"/><rect x="17" y="2" width="1" height="10"/></g></svg>, RB</div>
<div class="t c ty" style="top:392px;left:397px;width:57px">PRRB</div>
<div class="t n" style="top:392px;left:579px;width:34px">1</div>
<div class="t n" style="top:392px;left:918px;width:58px">1</div>
<div class="t lk" style="top:415px;left:8px">900065</div>
<div class="t" style="top:415px;left:100px">1999 5 Yn Sun-J46d Sturgeon <svg class="cj" width="23" height="13" viewBox="0 0 23 13" ><g fill="#111" stroke="#111" stroke-width="0.2"><rect x="2" y="1" width="1" height="2"/><rect x="0" y="3" width="4" height="1"/><rect x="3" y="4" width="1" height="1"/><rect x="2" y="5" width="1" height="1"/><rect x="1" y="6" width="1" height="1"/><rect x="0" y="7" width="1" height="1"/><rect x="2" y="6" width="1" height="6"/><rect x="3" y="6" width="1" height="1"/><rect x="4" y="7" width="1" height="1"/><rect x="5" y="1" width="1" height="1"/><rect x="6" y="2" width="1" height="1"/><rect x="10" y="1" width="1" height="1"/><rect x="9" y="2" width="1" height="1"/><rect x="5" y="3" width="6" height="1"/><rect x="5" y="6" width="6" height="1"/><rect x="4" y="8" width="7" height="1"/><rect x="7" y="3" width="1" height="9"/><rect x="12" y="1" width="10" height="1"/><rect x="13" y="4" width="9" height="1"/><rect x="13" y="4" width="1" height="7"/><rect x="21" y="4" width="1" height="7"/><rect x="19" y="10" width="2" height="1"/><rect x="17" y="2" width="1" height="10"/></g></svg>, RD</div>
<div class="t c ty" style="top:415px;left:397px;width:57px">PRRD</div>
<div class="t n" style="top:415px;left:672px;width:47px">1</div>
<div class="t n" style="top:415px;left:725px;width:47px">1</div>
<div class="t n" style="top:415px;left:918px;width:58px">2</div>
<div class="t lk" style="top:438px;left:8px">900573</div>
<div class="t" style="top:438px;left:100px">1999 5 Yn Sun-J46d Sturgeon <svg class="cj" width="23" height="13" viewBox="0 0 23 13" ><g fill="#111" stroke="#111" stroke-width="0.2"><rect x="2" y="1" width="1" height="2"/><rect x="0" y="3" width="4" height="1"/><rect x="3" y="4" width="1" height="1"/><rect x="2" y="5" width="1" height="1"/><rect x="1" y="6" width="1" height="1"/><rect x="0" y="7" width="1" height="1"/><rect x="2" y="6" width="1" height="6"/><rect x="3" y="6" width="1" height="1"/><rect x="4" y="7" width="1" height="1"/><rect x="5" y="1" width="1" height="1"/><rect x="6" y="2" width="1" height="1"/><rect x="10" y="1" width="1" height="1"/><rect x="9" y="2" width="1" height="1"/><rect x="5" y="3" width="6" height="1"/><rect x="5" y="6" width="6" height="1"/><rect x="4" y="8" width="7" height="1"/><rect x="7" y="3" width="1" height="9"/><rect x="12" y="1" width="10" height="1"/><rect x="13" y="4" width="9" height="1"/><rect x="13" y="4" width="1" height="7"/><rect x="21" y="4" width="1" height="7"/><rect x="19" y="10" width="2" height="1"/><rect x="17" y="2" width="1" height="10"/></g></svg>, DC</div>
<div class="t c ty" style="top:438px;left:397px;width:57px">PRDC</div>
<div class="t n" style="top:438px;left:672px;width:47px">2</div>
<div class="t n" style="top:438px;left:725px;width:47px">2</div>
<div class="t n" style="top:438px;left:918px;width:58px">4</div>
<div class="t lk" style="top:461px;left:8px">900479</div>
<div class="t" style="top:461px;left:100px">2001 5 Yn Sun-J55b 1911 Revolution, DC</div>
<div class="t c ty" style="top:461px;left:397px;width:57px">PRDC</div>
<div class="t n" style="top:461px;left:579px;width:34px">14</div>
<div class="t n" style="top:461px;left:619px;width:47px">98</div>
<div class="t n" style="top:461px;left:672px;width:47px">125</div>
<div class="t n" style="top:461px;left:725px;width:47px">557</div>
<div class="t n" style="top:461px;left:778px;width:48px">1,346</div>
<div class="t n" style="top:461px;left:832px;width:48px">789</div>
<div class="t n" style="top:461px;left:918px;width:58px">2,929</div>
<div class="t lk" style="top:484px;left:8px">900478</div>
<div class="t" style="top:484px;left:100px">2001 5 Yn Sun-J54b Tibet 50th Ann, DC</div>
<div class="t c ty" style="top:484px;left:397px;width:57px">PRDC</div>
<div class="t n" style="top:484px;left:619px;width:47px">1</div>
<div class="t n" style="top:484px;left:672px;width:47px">1</div>
<div class="t n" style="top:484px;left:725px;width:47px">2</div>
<div class="t n" style="top:484px;left:778px;width:48px">16</div>
<div class="t n" style="top:484px;left:832px;width:48px">44</div>
<div class="t n" style="top:484px;left:886px;width:26px">2</div>
<div class="t n" style="top:484px;left:918px;width:58px">66</div>
<div class="t lk" style="top:507px;left:8px">900323</div>
<div class="t" style="top:507px;left:100px">2002 5 Yn Sun-J57b Terra Cotta, DC</div>
<div class="t c ty" style="top:507px;left:397px;width:57px">PRDC</div>
<div class="t n" style="top:507px;left:548px;width:25px">2</div>
<div class="t n" style="top:507px;left:579px;width:34px">31</div>
<div class="t n" style="top:507px;left:619px;width:47px">236</div>
<div class="t n" style="top:507px;left:672px;width:47px">396</div>
<div class="t n" style="top:507px;left:725px;width:47px">816</div>
<div class="t n" style="top:507px;left:778px;width:48px">370</div>
<div class="t n" style="top:507px;left:832px;width:48px">61</div>
<div class="t n" style="top:507px;left:918px;width:58px">1,912</div>
<div class="t lk" style="top:530px;left:8px">900480</div>
<div class="t" style="top:530px;left:100px">2002 5 Yn Sun-J56b The Great Wall, DC</div>
<div class="t c ty" style="top:530px;left:397px;width:57px">PRDC</div>
<div class="t n" style="top:530px;left:579px;width:34px">53</div>
<div class="t n" style="top:530px;left:619px;width:47px">272</div>
<div class="t n" style="top:530px;left:672px;width:47px">705</div>
<div class="t n" style="top:530px;left:725px;width:47px">1,128</div>
<div class="t n" style="top:530px;left:778px;width:48px">953</div>
<div class="t n" style="top:530px;left:832px;width:48px">382</div>
<div class="t n" style="top:530px;left:918px;width:58px">3,493</div>
<div class="t lk" style="top:553px;left:8px">900326</div>
<div class="t" style="top:553px;left:100px">2003 5 Yn Sun-J59b Chaotian Temple, DC</div>
<div class="t c ty" style="top:553px;left:397px;width:57px">PRDC</div>
<div class="t n" style="top:553px;left:579px;width:34px">1</div>
<div class="t n" style="top:553px;left:725px;width:47px">3</div>
<div class="t n" style="top:553px;left:778px;width:48px">6</div>
<div class="t n" style="top:553px;left:832px;width:48px">1</div>
<div class="t n" style="top:553px;left:918px;width:58px">11</div>
<div class="t lk" style="top:576px;left:8px">900330</div>
<div class="t" style="top:576px;left:100px">2003 5 Yn Sun-J61b Confucious T., DC</div>
<div class="t c ty" style="top:576px;left:397px;width:57px">PRDC</div>
<div class="t n" style="top:576px;left:619px;width:47px">1</div>
<div class="t n" style="top:576px;left:725px;width:47px">5</div>
<div class="t n" style="top:576px;left:778px;width:48px">4</div>
<div class="t n" style="top:576px;left:832px;width:48px">3</div>
<div class="t n" style="top:576px;left:918px;width:58px">13</div>
<div class="t lk" style="top:599px;left:8px">900328</div>
<div class="t" style="top:599px;left:100px">2003 5 Yn Sun-J60b Chikan Tower, DC</div>
<div class="t c ty" style="top:599px;left:397px;width:57px">PRDC</div>
<div class="t n" style="top:599px;left:672px;width:47px">1</div>
<div class="t n" style="top:599px;left:725px;width:47px">4</div>
<div class="t n" style="top:599px;left:778px;width:48px">9</div>
<div class="t n" style="top:599px;left:832px;width:48px">6</div>
<div class="t n" style="top:599px;left:918px;width:58px">20</div>
<div class="t lk" style="top:622px;left:8px">900331</div>
<div class="t" style="top:622px;left:100px">2003 5 Yn Sun-J62b Imperial Palace, DC</div>
<div class="t c ty" style="top:622px;left:397px;width:57px">PRDC</div>
<div class="t n" style="top:622px;left:619px;width:47px">4</div>
<div class="t n" style="top:622px;left:672px;width:47px">1</div>
<div class="t n" style="top:622px;left:725px;width:47px">4</div>
<div class="t n" style="top:622px;left:778px;width:48px">4</div>
<div class="t n" style="top:622px;left:832px;width:48px">3</div>
<div class="t n" style="top:622px;left:918px;width:58px">16</div>
<div class="t lk" style="top:645px;left:8px">900284</div>
<div class="t" style="top:645px;left:100px">2004 5 Yn Sun-J68b Suzhou Gardens, DC</div>
<div class="t c ty" style="top:645px;left:397px;width:57px">PRDC</div>
<div class="t n" style="top:645px;left:672px;width:47px">1</div>
<div class="t n" style="top:645px;left:725px;width:47px">4</div>
<div class="t n" style="top:645px;left:778px;width:48px">13</div>
<div class="t n" style="top:645px;left:832px;width:48px">11</div>
<div class="t n" style="top:645px;left:918px;width:58px">29</div>
<div class="t lk" style="top:668px;left:8px">900285</div>
<div class="t" style="top:668px;left:100px">2004 5 Yn Sun-J69b Peking Man, DC</div>
<div class="t c ty" style="top:668px;left:397px;width:57px">PRDC</div>
<div class="t n" style="top:668px;left:672px;width:47px">1</div>
<div class="t n" style="top:668px;left:725px;width:47px">7</div>
<div class="t n" style="top:668px;left:778px;width:48px">13</div>
<div class="t n" style="top:668px;left:832px;width:48px">6</div>
<div class="t n" style="top:668px;left:918px;width:58px">27</div>
<div class="t lk" style="top:691px;left:8px">900282</div>
<div class="t" style="top:691px;left:100px">2004 5 Yn Sun-J65b Riyue Lake, DC</div>
<div class="t c ty" style="top:691px;left:397px;width:57px">PRDC</div>
<div class="t n" style="top:691px;left:672px;width:47px">1</div>
<div class="t n" style="top:691px;left:725px;width:47px">2</div>
<div class="t n" style="top:691px;left:778px;width:48px">5</div>
<div class="t n" style="top:691px;left:832px;width:48px">9</div>
<div class="t n" style="top:691px;left:918px;width:58px">17</div>
</body></html>
